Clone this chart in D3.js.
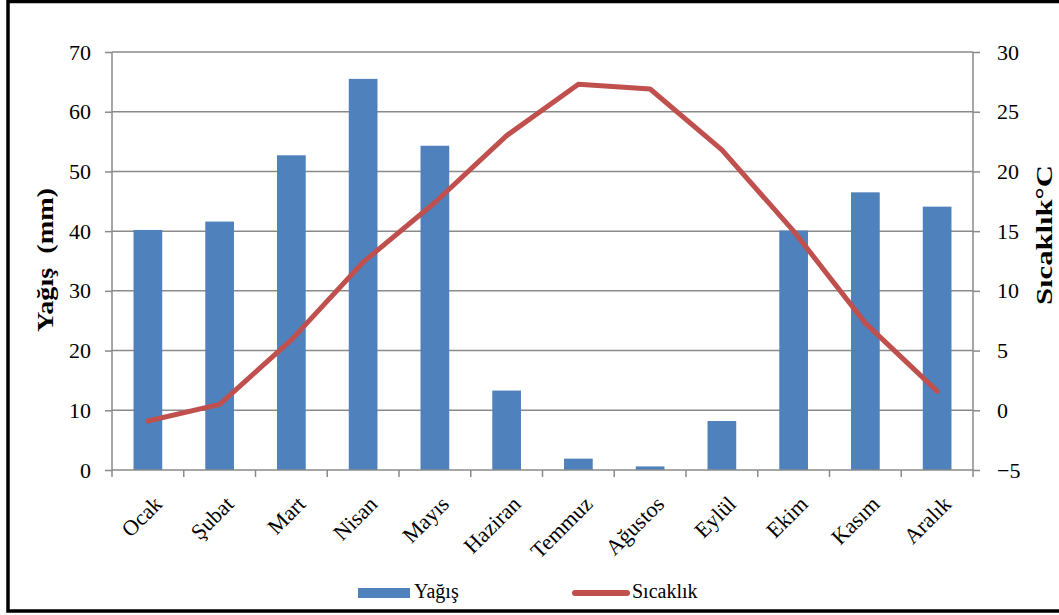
<!DOCTYPE html>
<html>
<head>
<meta charset="utf-8">
<script src="https://cdn.jsdelivr.net/npm/d3@7"></script>
<style>
  body { margin: 0; background: #fff; }
  svg { display: block; font-family: "Liberation Serif", "Times New Roman", serif; }
</style>
</head>
<body>
<svg id="chart" width="1059" height="615"></svg>
<script>
const months = ['Ocak', 'Şubat', 'Mart', 'Nisan', 'Mayıs', 'Haziran', 'Temmuz', 'Ağustos', 'Eylül', 'Ekim', 'Kasım', 'Aralık'];
const rain = [40.2, 41.6, 52.7, 65.5, 54.3, 13.3, 1.9, 0.6, 8.2, 40.1, 46.5, 44.1];
const temp = [-0.9, 0.5, 5.9, 12.4, 17.4, 23.0, 27.3, 26.9, 21.8, 15.0, 7.3, 1.6];
const rainTicks = [0, 10, 20, 30, 40, 50, 60, 70];
const tempTicks = [-5, 0, 5, 10, 15, 20, 25, 30];

const svg = d3.select('#chart');
const plotL = 112, plotR = 973, plotT = 52, plotB = 470;
const gridColor = '#8a8a8a';
const serif = '"Liberation Serif", "Times New Roman", serif';

// frame (right edge falls outside the picture)
svg.append('rect')
  .attr('x', 8).attr('y', 1.5).attr('width', 1070).attr('height', 609.5)
  .attr('fill', 'none').attr('stroke', '#000').attr('stroke-width', 3.5);

const x = d3.scaleBand().domain(months).range([plotL, plotR]).paddingInner(0.6).paddingOuter(0.3);
const yL = d3.scaleLinear().domain([0, 70]).range([plotB, plotT]);
const yR = d3.scaleLinear().domain([-5, 30]).range([plotB, plotT]);

// gridlines
svg.append('g')
  .selectAll('line')
  .data(rainTicks.slice(1))
  .join('line')
  .attr('x1', plotL).attr('x2', plotR)
  .attr('y1', d => yL(d)).attr('y2', d => yL(d))
  .attr('stroke', gridColor).attr('stroke-width', 1.5);

// bars
svg.append('g')
  .selectAll('rect')
  .data(rain)
  .join('rect')
  .attr('x', (d, i) => x(months[i]))
  .attr('y', d => yL(d))
  .attr('width', x.bandwidth())
  .attr('height', d => yL(0) - yL(d))
  .attr('fill', '#4F81BD');

// left axis
const axisL = svg.append('g').attr('transform', `translate(${plotL},0)`)
  .call(d3.axisLeft(yL).tickValues(rainTicks).tickSize(7).tickPadding(14).tickFormat(d3.format('d')));
// right axis
const axisR = svg.append('g').attr('transform', `translate(${plotR},0)`)
  .call(d3.axisRight(yR).tickValues(tempTicks).tickSize(7).tickPadding(17).tickFormat(d3.format('d')));
// bottom axis, ticks at category boundaries
const bounds = d3.range(months.length + 1).map(i => plotL + i * (plotR - plotL) / months.length);
const axisB = svg.append('g');
axisB.append('line')
  .attr('x1', plotL).attr('x2', plotR).attr('y1', plotB).attr('y2', plotB)
  .attr('stroke', gridColor).attr('stroke-width', 1.5);
axisB.selectAll('line.tick')
  .data(bounds)
  .join('line')
  .attr('class', 'tick')
  .attr('x1', d => d).attr('x2', d => d)
  .attr('y1', plotB).attr('y2', plotB + 7)
  .attr('stroke', gridColor).attr('stroke-width', 1.5);
axisB.selectAll('text')
  .data(months)
  .join('text')
  .attr('transform', d => `translate(${x(d) + x.bandwidth() / 2 + 10},${plotB + 30}) rotate(-45)`)
  .attr('text-anchor', 'end')
  .attr('dy', '0.35em')
  .attr('font-size', 22)
  .attr('fill', '#000')
  .text(d => d);

[axisL, axisR].forEach(a => {
  a.select('.domain').attr('stroke', gridColor).attr('stroke-width', 1.5);
  a.selectAll('.tick line').attr('stroke', gridColor).attr('stroke-width', 1.5);
  a.selectAll('.tick text').attr('font-size', 22).attr('fill', '#000').attr('font-family', serif);
});
axisL.select('.domain').attr('d', `M0,${plotT}V${plotB}`);
axisR.select('.domain').attr('d', `M0,${plotT}V${plotB}`);

// temperature line
const line = d3.line()
  .x((d, i) => x(months[i]) + x.bandwidth() / 2)
  .y(d => yR(d));
svg.append('path')
  .datum(temp)
  .attr('d', line)
  .attr('fill', 'none')
  .attr('stroke', '#C0504D')
  .attr('stroke-width', 5)
  .attr('stroke-linejoin', 'round')
  .attr('stroke-linecap', 'round');

// axis titles
svg.append('text')
  .attr('transform', 'translate(53,260) rotate(-90)')
  .attr('text-anchor', 'middle')
  .attr('font-size', 24).attr('font-weight', 'bold')
  .attr('xml:space', 'preserve')
  .attr('textLength', 144).attr('lengthAdjust', 'spacingAndGlyphs')
  .text('Yağış  (mm)');
svg.append('text')
  .attr('transform', 'translate(1052,235) rotate(-90)')
  .attr('text-anchor', 'middle')
  .attr('font-size', 24).attr('font-weight', 'bold')
  .attr('textLength', 140).attr('lengthAdjust', 'spacingAndGlyphs')
  .text('Sıcaklık°C');

// legend
const lg = svg.append('g');
lg.append('rect').attr('x', 358).attr('y', 588).attr('width', 52).attr('height', 10).attr('fill', '#4F81BD');
lg.append('text').attr('x', 414).attr('y', 598).attr('font-size', 20).text('Yağış');
lg.append('line').attr('x1', 575).attr('x2', 627).attr('y1', 593).attr('y2', 593)
  .attr('stroke', '#C0504D').attr('stroke-width', 6).attr('stroke-linecap', 'round');
lg.append('text').attr('x', 632).attr('y', 598).attr('font-size', 20).text('Sıcaklık');
</script>
</body>
</html>
